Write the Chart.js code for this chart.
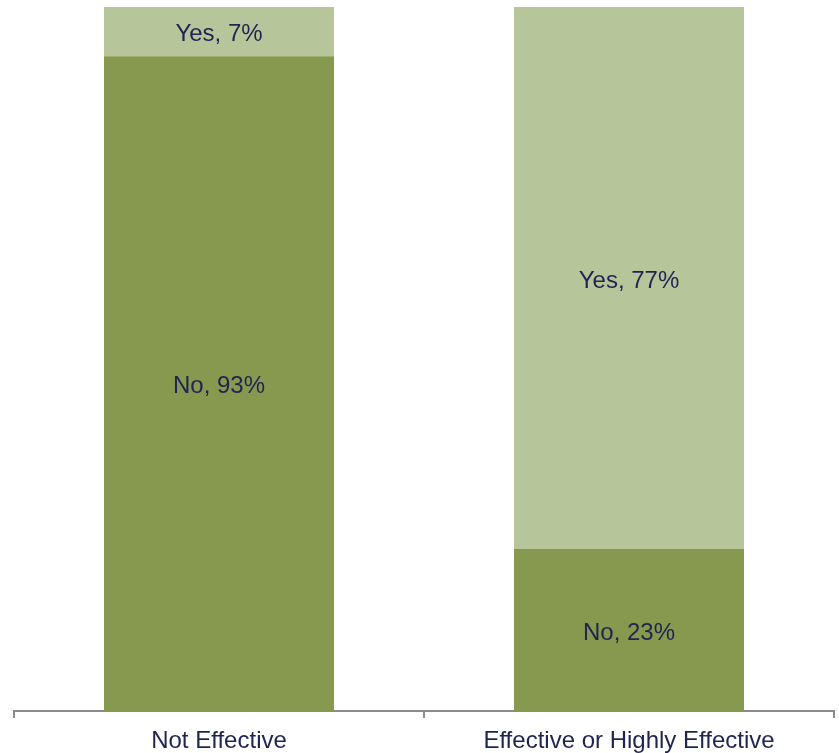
<!DOCTYPE html>
<html>
<head>
<meta charset="utf-8">
<script src="https://cdn.jsdelivr.net/npm/chart.js@4"></script>
<style>
  html, body { margin: 0; padding: 0; background: #fff; }
  #wrap { width: 839px; height: 753px; }
</style>
</head>
<body>
<div id="wrap"><canvas id="chart" width="839" height="753"></canvas></div>
<script>
// Chart data
const categories = ['Not Effective', 'Effective or Highly Effective'];
const noValues = [93, 23];
const yesValues = [7, 77];

// Draws "Yes, 7%" style labels in the middle of each segment
const segmentLabels = {
    id: 'segmentLabels',
    afterDatasetsDraw(chart) {
        const ctx = chart.ctx;
        ctx.save();
        ctx.font = '24px "Liberation Sans", Arial, sans-serif';
        ctx.fillStyle = '#1f2450';
        ctx.textAlign = 'center';
        ctx.textBaseline = 'middle';
        chart.data.datasets.forEach((ds, i) => {
            chart.getDatasetMeta(i).data.forEach((bar, j) => {
                const mid = (bar.y + bar.base) / 2 + 3;
                ctx.fillText(ds.label + ', ' + ds.data[j] + '%', bar.x, mid);
            });
        });
        ctx.restore();
    }
};

const ctx = document.getElementById('chart').getContext('2d');
new Chart(ctx, {
    type: 'bar',
    data: {
        labels: categories,
        datasets: [
            { label: 'No', data: noValues, backgroundColor: '#86994e' },
            { label: 'Yes', data: yesValues, backgroundColor: '#b7c69a' }
        ]
    },
    options: {
        responsive: false,
        animation: false,
        layout: { padding: { left: 14, right: 5, top: 7, bottom: 0 } },
        datasets: {
            bar: { categoryPercentage: 1, barPercentage: 0.561 }
        },
        plugins: {
            legend: { display: false },
            tooltip: { enabled: false }
        },
        scales: {
            x: {
                stacked: true,
                grid: {
                    offset: true,
                    drawOnChartArea: false,
                    tickLength: 7,
                    color: '#8c8c8c',
                    lineWidth: 2
                },
                border: { color: '#8c8c8c', width: 2 },
                ticks: {
                    color: '#1f2450',
                    padding: 9,
                    font: { family: '"Liberation Sans", Arial, sans-serif', size: 24 }
                },
                afterFit: (scale) => { scale.height = 42; }
            },
            y: {
                stacked: true,
                display: false,
                min: 0,
                max: 100
            }
        }
    },
    plugins: [segmentLabels]
});
</script>
</body>
</html>
